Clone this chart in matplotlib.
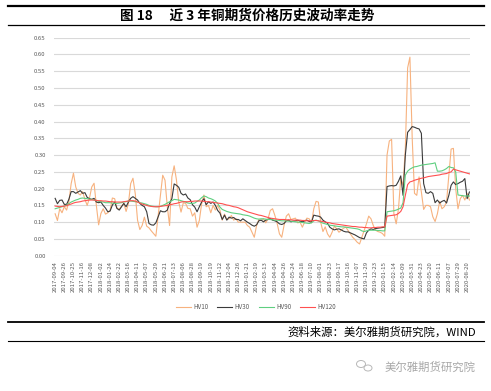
import numpy as np
import matplotlib
matplotlib.use("Agg")
import matplotlib.pyplot as plt
from matplotlib.lines import Line2D
from matplotlib.patches import Ellipse

plt.rcParams['font.family'] = ['Noto Sans CJK SC', 'DejaVu Sans']

# trading-day tick labels (one every 16 trading days)
tick_labels = [
    "2017-09-04", "2017-09-26", "2017-10-25", "2017-11-16", "2017-12-08",
    "2018-01-02", "2018-01-24", "2018-02-22", "2018-03-16", "2018-04-11",
    "2018-05-07", "2018-05-29", "2018-06-21", "2018-07-13", "2018-08-06",
    "2018-08-28", "2018-09-19", "2018-10-19", "2018-11-12", "2018-12-04",
    "2018-12-26", "2019-01-21", "2019-02-19", "2019-03-13", "2019-04-04",
    "2019-04-26", "2019-05-24", "2019-06-18", "2019-07-10", "2019-08-01",
    "2019-08-23", "2019-09-17", "2019-10-16", "2019-11-07", "2019-11-29",
    "2019-12-23", "2020-01-15", "2020-02-14", "2020-03-09", "2020-03-31",
    "2020-04-23", "2020-05-20", "2020-06-11", "2020-07-07", "2020-07-29",
    "2020-08-20",
]
tick_step = 16
sample_step = 4  # one value read every 4 trading days

hv10 = [
    0.125, 0.105, 0.140, 0.128, 0.146, 0.136, 0.161, 0.215, 0.246, 0.205,
    0.186, 0.181, 0.191, 0.168, 0.150, 0.172, 0.205, 0.216, 0.150, 0.092,
    0.126, 0.140, 0.124, 0.128, 0.135, 0.172, 0.170, 0.142, 0.138, 0.148,
    0.156, 0.132, 0.155, 0.215, 0.231, 0.185, 0.106, 0.078, 0.090, 0.115,
    0.088, 0.083, 0.074, 0.066, 0.058, 0.120, 0.180, 0.240, 0.225, 0.146,
    0.090, 0.235, 0.268, 0.226, 0.160, 0.130, 0.158, 0.156, 0.141, 0.140,
    0.118, 0.128, 0.085, 0.105, 0.155, 0.181, 0.146, 0.150, 0.128, 0.150,
    0.136, 0.150, 0.136, 0.106, 0.124, 0.108, 0.110, 0.120, 0.106, 0.111,
    0.100, 0.100, 0.100, 0.100, 0.090, 0.085, 0.070, 0.055, 0.090, 0.108,
    0.105, 0.110, 0.098, 0.110, 0.135, 0.140, 0.120, 0.096, 0.065, 0.055,
    0.090, 0.118, 0.125, 0.108, 0.110, 0.112, 0.098, 0.100, 0.085, 0.100,
    0.112, 0.110, 0.098, 0.140, 0.162, 0.160, 0.100, 0.072, 0.086, 0.065,
    0.055, 0.070, 0.088, 0.080, 0.070, 0.076, 0.082, 0.085, 0.075, 0.065,
    0.055, 0.048, 0.040, 0.035, 0.055, 0.075, 0.095, 0.118, 0.110, 0.090,
    0.076, 0.072, 0.070, 0.066, 0.058, 0.300, 0.342, 0.347, 0.125, 0.095,
    0.140, 0.230, 0.210, 0.320, 0.560, 0.592, 0.350, 0.186, 0.180, 0.235,
    0.190, 0.138, 0.150, 0.150, 0.146, 0.116, 0.102, 0.125, 0.162, 0.140,
    0.146, 0.160, 0.240, 0.318, 0.320, 0.200, 0.140, 0.170, 0.180, 0.166,
    0.186, 0.166,
]

hv30 = [
    0.171, 0.155, 0.165, 0.166, 0.153, 0.153, 0.168, 0.191, 0.191, 0.186,
    0.190, 0.194, 0.186, 0.188, 0.174, 0.170, 0.168, 0.171, 0.160, 0.158,
    0.160, 0.150, 0.142, 0.131, 0.133, 0.151, 0.160, 0.141, 0.136, 0.146,
    0.156, 0.146, 0.160, 0.171, 0.176, 0.171, 0.166, 0.156, 0.150, 0.146,
    0.131, 0.096, 0.092, 0.091, 0.098, 0.116, 0.134, 0.131, 0.131, 0.136,
    0.156, 0.170, 0.214, 0.210, 0.204, 0.186, 0.181, 0.184, 0.172, 0.167,
    0.152, 0.145, 0.131, 0.146, 0.160, 0.170, 0.152, 0.161, 0.156, 0.160,
    0.150, 0.135, 0.127, 0.108, 0.121, 0.106, 0.115, 0.112, 0.114, 0.108,
    0.108, 0.104, 0.110, 0.105, 0.100, 0.096, 0.091, 0.088, 0.092, 0.104,
    0.106, 0.101, 0.106, 0.108, 0.111, 0.106, 0.104, 0.101, 0.095, 0.093,
    0.096, 0.104, 0.106, 0.101, 0.103, 0.104, 0.106, 0.103, 0.101, 0.104,
    0.106, 0.102, 0.100, 0.121, 0.119, 0.118, 0.115, 0.106, 0.101, 0.097,
    0.085, 0.080, 0.077, 0.079, 0.080, 0.077, 0.073, 0.071, 0.071, 0.068,
    0.065, 0.062, 0.058, 0.054, 0.052, 0.050, 0.068, 0.076, 0.080, 0.078,
    0.081, 0.082, 0.083, 0.084, 0.085, 0.206, 0.208, 0.209, 0.208, 0.210,
    0.222, 0.238, 0.180, 0.300, 0.368, 0.376, 0.385, 0.383, 0.380, 0.378,
    0.365, 0.215, 0.188, 0.186, 0.191, 0.186, 0.158, 0.166, 0.157, 0.162,
    0.165, 0.157, 0.180, 0.210, 0.220, 0.212, 0.215, 0.219, 0.222, 0.230,
    0.170, 0.190,
]

hv90 = [
    0.140, 0.142, 0.144, 0.146, 0.148, 0.151, 0.155, 0.160, 0.163, 0.166,
    0.168, 0.171, 0.172, 0.171, 0.170, 0.169, 0.168, 0.166, 0.165, 0.162,
    0.161, 0.160, 0.158, 0.158, 0.158, 0.157, 0.156, 0.156, 0.157, 0.158,
    0.160, 0.161, 0.163, 0.163, 0.162, 0.161, 0.160, 0.158, 0.157, 0.155,
    0.153, 0.150, 0.148, 0.147, 0.146, 0.146, 0.147, 0.150, 0.153, 0.157,
    0.161, 0.164, 0.168, 0.167, 0.166, 0.164, 0.162, 0.160, 0.157, 0.156,
    0.156, 0.157, 0.162, 0.166, 0.173, 0.178, 0.176, 0.172, 0.170, 0.167,
    0.163, 0.156, 0.145, 0.138, 0.135, 0.132, 0.130, 0.128, 0.127, 0.126,
    0.125, 0.124, 0.122, 0.121, 0.120, 0.118, 0.115, 0.112, 0.110, 0.109,
    0.110, 0.110, 0.109, 0.108, 0.108, 0.107, 0.106, 0.106, 0.105, 0.104,
    0.104, 0.104, 0.103, 0.103, 0.102, 0.101, 0.100, 0.100, 0.099, 0.098,
    0.097, 0.096, 0.098, 0.104, 0.106, 0.104, 0.100, 0.097, 0.095, 0.093,
    0.091, 0.090, 0.089, 0.088, 0.087, 0.086, 0.086, 0.085, 0.084, 0.083,
    0.082, 0.081, 0.080, 0.078, 0.074, 0.072, 0.074, 0.076, 0.076, 0.076,
    0.076, 0.075, 0.075, 0.074, 0.074, 0.131, 0.132, 0.133, 0.134, 0.136,
    0.139, 0.142, 0.158, 0.240, 0.252, 0.258, 0.262, 0.265, 0.266, 0.268,
    0.270, 0.271, 0.272, 0.273, 0.274, 0.275, 0.277, 0.252, 0.252, 0.253,
    0.256, 0.260, 0.266, 0.263, 0.262, 0.250, 0.181, 0.180, 0.179, 0.178,
    0.178, 0.178,
]

hv120 = [
    0.148, 0.147, 0.146, 0.147, 0.148, 0.149, 0.152, 0.154, 0.157, 0.159,
    0.160, 0.161, 0.163, 0.164, 0.165, 0.166, 0.166, 0.166, 0.165, 0.164,
    0.164, 0.163, 0.163, 0.162, 0.161, 0.161, 0.160, 0.160, 0.160, 0.160,
    0.161, 0.162, 0.163, 0.164, 0.164, 0.163, 0.160, 0.157, 0.154, 0.152,
    0.150, 0.148, 0.147, 0.146, 0.146, 0.146, 0.147, 0.148, 0.149, 0.150,
    0.152, 0.153, 0.155, 0.156, 0.158, 0.160, 0.161, 0.161, 0.161, 0.162,
    0.162, 0.163, 0.163, 0.163, 0.163, 0.162, 0.161, 0.161, 0.160, 0.159,
    0.158, 0.157, 0.156, 0.155, 0.153, 0.151, 0.150, 0.148, 0.146, 0.145,
    0.143, 0.140, 0.137, 0.134, 0.131, 0.129, 0.127, 0.125, 0.123, 0.121,
    0.120, 0.118, 0.116, 0.114, 0.112, 0.111, 0.110, 0.109, 0.108, 0.108,
    0.108, 0.107, 0.107, 0.107, 0.106, 0.106, 0.106, 0.106, 0.105, 0.105,
    0.104, 0.104, 0.104, 0.105, 0.105, 0.104, 0.103, 0.102, 0.100, 0.099,
    0.098, 0.096, 0.095, 0.094, 0.093, 0.092, 0.091, 0.090, 0.089, 0.088,
    0.087, 0.087, 0.086, 0.085, 0.085, 0.084, 0.084, 0.083, 0.083, 0.084,
    0.084, 0.085, 0.085, 0.086, 0.086, 0.118, 0.119, 0.120, 0.121, 0.122,
    0.126, 0.132, 0.146, 0.180, 0.212, 0.220, 0.222, 0.225, 0.227, 0.229,
    0.231, 0.232, 0.234, 0.236, 0.237, 0.238, 0.239, 0.240, 0.241, 0.243,
    0.244, 0.245, 0.248, 0.250, 0.258, 0.256, 0.254, 0.252, 0.250, 0.248,
    0.246, 0.244,
]

series_names = ["HV10", "HV30", "HV90", "HV120"]
series_colors = ["#f7b27f", "#3a3a3a", "#5fcf80", "#ff5050"]


def main():
    fig = plt.figure(figsize=(4.91, 3.91), dpi=100)
    ax = fig.add_axes([54 / 491, 1 - 255.7 / 391, 416 / 491, 218 / 391])

    # Draw the four volatility series
    for name, vals, color in zip(series_names, [hv10, hv30, hv90, hv120], series_colors):
        x = np.arange(len(vals)) * sample_step
        ax.plot(x, vals, color=color, linewidth=0.8, label=name)

    ax.set_xlim(-2, 725)
    ax.set_ylim(0, 0.65)
    ax.set_yticks(np.arange(0, 0.651, 0.05))
    ax.set_yticklabels([f"{v:.2f}" for v in np.arange(0, 0.651, 0.05)])
    ax.set_xticks(np.arange(len(tick_labels)) * tick_step)
    ax.set_xticklabels(tick_labels, rotation=90)
    ax.tick_params(axis='both', length=0, labelsize=4.3, labelcolor='#595959')
    ax.tick_params(axis='y', pad=6)
    ax.tick_params(axis='x', pad=4)
    ax.yaxis.grid(True, color='#d9d9d9', linewidth=0.8)
    ax.set_axisbelow(True)
    for s in ax.spines.values():
        s.set_visible(False)

    leg = ax.legend(loc='center', bbox_to_anchor=(256 / 491, 1 - 306.7 / 391),
                    bbox_transform=fig.transFigure, ncol=4, frameon=False,
                    fontsize=4.5, handlelength=2.4, handletextpad=0.4,
                    columnspacing=1.4)
    for t in leg.get_texts():
        t.set_color('#595959')

    # Frame lines, title and source
    def hline(y_px, lw):
        fig.add_artist(Line2D([8 / 491, 484 / 491], [1 - y_px / 391] * 2,
                              color='black', linewidth=lw))

    hline(6, 1.6)
    hline(25.3, 0.9)
    hline(322.3, 1.3)
    hline(341, 0.8)

    fig.text(247 / 491, 1 - 15.5 / 391, "图 18\u3000 近 3 年铜期货价格历史波动率走势",
             ha='center', va='center', fontsize=9.8, fontweight='bold')
    fig.text(476 / 491, 1 - 331.7 / 391, "资料来源：美尔雅期货研究院，WIND",
             ha='right', va='center', fontsize=8.2)

    # watermark
    fig.text(476 / 491, 1 - 366.7 / 391, "美尔雅期货研究院",
             ha='right', va='center', fontsize=8.2, color='#a8a8a8')
    fig.add_artist(Ellipse((361 / 491, 1 - 364 / 391), 9 / 491, 7 / 391,
                           fill=False, edgecolor='#b8b8b8', linewidth=0.7))
    fig.add_artist(Ellipse((368 / 491, 1 - 368 / 391), 8 / 491, 6 / 391,
                           fill=False, edgecolor='#b8b8b8', linewidth=0.7))

    fig.savefig("out.png", dpi=100)


if __name__ == "__main__":
    main()
